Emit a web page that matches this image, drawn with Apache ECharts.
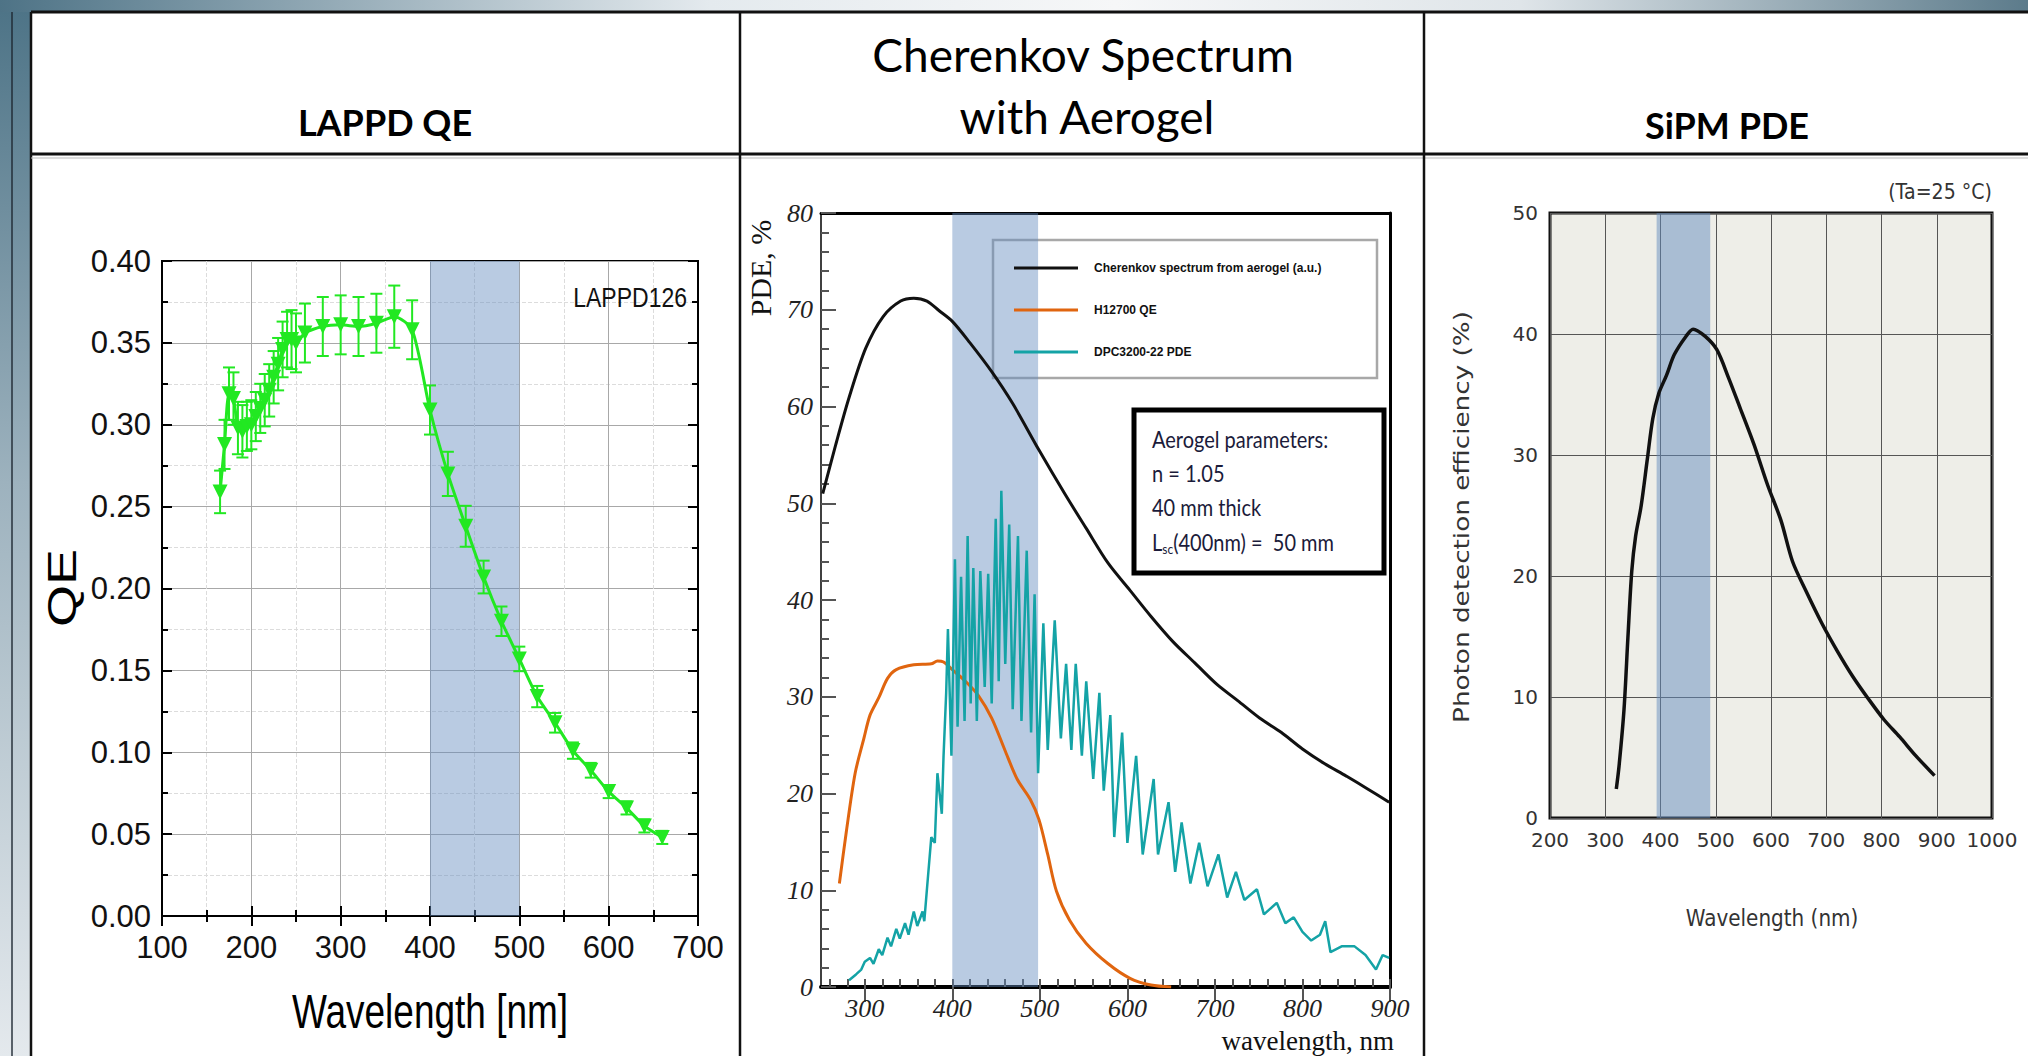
<!DOCTYPE html>
<html>
<head>
<meta charset="utf-8">
<title>LAPPD QE / Cherenkov spectrum / SiPM PDE</title>
<script src="https://cdn.jsdelivr.net/npm/echarts@6/dist/echarts.min.js"></script>
<style>
html, body { margin: 0; padding: 0; background: #fff; }
#main { width: 2028px; height: 1056px; }
</style>
</head>
<body>
<div id="main"></div>
<script>
// LAPPD126 quantum efficiency (left panel)
var qeWl = [165, 170, 175, 180, 185, 190, 195, 200, 205, 210, 215, 220, 225, 230, 235, 240, 245, 250, 260, 280,
    300, 320, 340, 360, 380, 400, 420, 440, 460, 480, 500, 520, 540, 560, 580, 600, 620, 640, 660];
var qeVal = [0.259, 0.288, 0.319, 0.316, 0.298, 0.296, 0.299, 0.300, 0.305, 0.310, 0.315, 0.321, 0.329, 0.337, 0.346, 0.352, 0.352, 0.350, 0.356, 0.360,
    0.361, 0.360, 0.362, 0.366, 0.358, 0.309, 0.270, 0.238, 0.207, 0.180, 0.157, 0.134, 0.118, 0.101, 0.089, 0.076, 0.066, 0.055, 0.048];
var qeErr = [0.013, 0.015, 0.016, 0.016, 0.016, 0.016, 0.015, 0.015, 0.015, 0.015, 0.016, 0.016, 0.016, 0.016, 0.017, 0.017, 0.018, 0.018, 0.018, 0.018,
    0.018, 0.018, 0.018, 0.019, 0.018, 0.015, 0.0135, 0.0125, 0.010, 0.009, 0.0075, 0.0065, 0.006, 0.005, 0.0045, 0.004, 0.004, 0.004, 0.004];

// Cherenkov spectrum from aerogel (middle panel)
var cherWl = [252, 267, 282, 301, 321, 341, 356, 371, 385, 400, 420, 445, 469, 499, 529, 553, 578, 603, 627, 652,
    677, 702, 726, 751, 776, 800, 825, 850, 874, 899];
var cherVal = [51.0, 56.1, 60.9, 66.0, 69.3, 70.9, 71.2, 70.9, 69.9, 68.8, 66.6, 63.6, 60.3, 55.5, 50.9, 47.4, 43.8, 41.0, 38.3, 35.7,
    33.5, 31.3, 29.6, 27.8, 26.3, 24.6, 23.1, 21.8, 20.5, 19.1];

// H12700 QE
var h12700Wl = [271, 279, 289, 299, 306, 316, 326, 336, 356, 376, 383, 390, 400, 415, 430, 445, 460, 474, 489, 499,
    509, 519, 534, 553, 578, 603, 627, 650];
var h12700Val = [10.7, 16.1, 22.1, 25.7, 28.1, 29.9, 31.9, 32.8, 33.3, 33.4, 33.7, 33.6, 32.8, 31.6, 30.1, 27.8, 24.5, 21.5, 19.4, 17.3,
    13.7, 9.9, 6.9, 4.5, 2.4, 0.9, 0.2, 0.0];

// DPC3200-22 PDE
var dpcWl = [282, 290, 296, 300, 306, 310, 316, 320, 326, 330, 336, 340, 346, 350, 356, 360, 366, 368, 371, 376,
    380, 383, 388, 390, 393, 395, 399, 403, 406, 410, 414, 417.5, 421, 424, 428, 432, 437, 441, 445, 449.6,
    453, 456, 460.5, 465, 469, 475, 479, 485, 490, 494, 498, 504, 509, 517, 524, 530, 536, 541, 548, 553,
    561, 568, 573, 580.5, 585, 594, 600, 610, 617.5, 630, 635, 647, 654.6, 662, 672, 682, 691.6, 704, 714, 724,
    733.6, 748, 756, 770.6, 780.5, 790, 800, 810, 820, 826, 832, 844.7, 859.5, 872, 884, 891.6, 899];
var dpcVal = [0.7, 1.3, 1.8, 2.6, 3.0, 2.4, 3.9, 3.3, 5.1, 4.2, 6.0, 5.0, 6.6, 5.4, 7.8, 6.3, 7.8, 6.8, 10.1, 15.5,
    14.9, 22.1, 17.9, 23.9, 30.4, 37.0, 23.9, 44.2, 26.9, 42.4, 27.5, 46.6, 29.3, 43.3, 27.5, 43.0, 31.0, 42.7, 29.3, 48.4,
    31.6, 51.3, 33.4, 47.8, 28.7, 46.6, 27.5, 45.1, 26.3, 40.6, 22.1, 37.6, 24.5, 37.9, 25.7, 33.4, 24.5, 33.4, 23.9, 31.6,
    21.5, 30.4, 20.3, 28.1, 15.5, 26.3, 14.9, 23.9, 13.7, 21.5, 13.7, 19.1, 11.9, 17.0, 10.7, 14.9, 10.4, 13.7, 9.25, 11.9,
    9.0, 10.1, 7.5, 8.7, 6.6, 7.2, 5.7, 4.8, 5.4, 6.8, 3.6, 4.2, 4.2, 3.3, 1.8, 3.3, 3.0];

// SiPM photon detection efficiency (right panel)
var sipmWl = [320, 325, 334, 341, 348, 355, 365, 376, 386, 397, 411, 425, 446, 459, 481, 502, 523, 544, 569, 594,
    618, 639, 664, 692, 720, 748, 777, 805, 833, 861, 896];
var sipmVal = [2.4, 4.3, 9.0, 14.9, 20.4, 23.3, 25.8, 29.6, 33.0, 35.1, 36.6, 38.3, 39.8, 40.4, 39.8, 38.7, 36.4, 33.9, 30.9, 27.5,
    24.6, 21.2, 18.7, 16.1, 13.8, 11.7, 9.8, 8.1, 6.7, 5.2, 3.5];

// tick positions of the middle panel (axis starts at 250)
var cherMajorTicks = [300, 400, 500, 600, 700, 800, 900];
var cherMinorTicks = [260, 280, 300, 320, 340, 360, 380, 400, 420, 440, 460, 480, 500, 520, 540, 560, 580, 600,
    620, 640, 660, 680, 700, 720, 740, 760, 780, 800, 820, 840, 860, 880, 900];

var legendNames = ['Cherenkov spectrum from aerogel (a.u.)', 'H12700 QE', 'DPC3200-22 PDE'];

function pairs(xs, ys) {
    var out = [];
    for (var i = 0; i < xs.length; i++) {
        out.push([xs[i], ys[i]]);
    }
    return out;
}

function bandSeries(xi, yi, from, to, color) {
    return {
        type: 'line', xAxisIndex: xi, yAxisIndex: yi, data: [], z: 10, silent: true,
        markArea: {
            silent: true,
            itemStyle: {color: color},
            data: [[{xAxis: from}, {xAxis: to}]]
        }
    };
}

var green = '#22e822';
var sans = '"Liberation Sans Narrow", "Liberation Sans", Arial, sans-serif';
var serif = '"Liberation Serif", serif';
var chart = echarts.init(document.getElementById('main'), null, {renderer: 'svg'});

var option = {
    animation: false,
    backgroundColor: '#fff',
    grid: [
        {left: 162, top: 261, width: 536, height: 655, show: true, borderColor: '#000', borderWidth: 2, backgroundColor: 'transparent'},
        {left: 821, top: 213, width: 569, height: 774},
        {left: 1550, top: 213, width: 442, height: 605, show: true, backgroundColor: '#eeeee8', borderColor: '#111', borderWidth: 3}
    ],
    xAxis: [
        // LAPPD
        {
            gridIndex: 0, type: 'value', min: 100, max: 700, interval: 100,
            axisLine: {lineStyle: {color: '#000', width: 2}},
            axisTick: {inside: true, length: 10, lineStyle: {color: '#000', width: 2}},
            minorTick: {show: true, splitNumber: 2, length: 6, lineStyle: {color: '#000', width: 2}},
            splitLine: {show: true, lineStyle: {color: '#a8a8a8', width: 1}},
            minorSplitLine: {show: true, lineStyle: {color: '#dcdcdc', type: 'dashed'}},
            axisLabel: {margin: 16, color: '#111', fontFamily: sans, fontSize: 31}
        },
        {
            gridIndex: 0, type: 'value', position: 'top', min: 100, max: 700, interval: 100,
            axisLine: {lineStyle: {color: '#000', width: 2}},
            axisTick: {inside: true, length: 10, lineStyle: {color: '#000', width: 2}},
            minorTick: {show: true, splitNumber: 2, length: 6, lineStyle: {color: '#000', width: 2}},
            splitLine: {show: false}, axisLabel: {show: false}
        },
        // Cherenkov
        {
            gridIndex: 1, type: 'value', min: 250, max: 900,
            axisLine: {lineStyle: {color: '#000', width: 4}},
            axisTick: {inside: true, length: 8, customValues: cherMinorTicks, lineStyle: {color: '#555', width: 2}},
            splitLine: {show: false},
            axisLabel: {margin: 8, customValues: cherMajorTicks, color: '#222', fontFamily: serif, fontStyle: 'italic', fontSize: 26}
        },
        {
            gridIndex: 1, type: 'value', min: 250, max: 900,
            axisLine: {show: false},
            axisTick: {inside: true, length: 15, customValues: cherMajorTicks, lineStyle: {color: '#555', width: 2}},
            splitLine: {show: false}, axisLabel: {show: false}
        },
        {
            gridIndex: 1, type: 'value', position: 'top', min: 250, max: 900,
            axisLine: {lineStyle: {color: '#000', width: 3}},
            axisTick: {show: false}, splitLine: {show: false}, axisLabel: {show: false}
        },
        // SiPM
        {
            gridIndex: 2, type: 'value', min: 200, max: 1000, interval: 100,
            axisLine: {show: false}, axisTick: {show: false},
            splitLine: {show: true, lineStyle: {color: '#555', width: 1}},
            axisLabel: {margin: 12, color: '#333', fontFamily: 'DejaVu Sans', fontSize: 20,
                formatter: function (v) { return String(v); }}
        }
    ],
    yAxis: [
        {
            gridIndex: 0, type: 'value', min: 0, max: 0.4, interval: 0.05,
            axisLine: {show: true, lineStyle: {color: '#000', width: 2}},
            axisTick: {show: true, inside: true, length: 10, lineStyle: {color: '#000', width: 2}},
            minorTick: {show: true, splitNumber: 2, length: 6, lineStyle: {color: '#000', width: 2}},
            splitLine: {show: true, lineStyle: {color: '#a8a8a8', width: 1}},
            minorSplitLine: {show: true, lineStyle: {color: '#dcdcdc', type: 'dashed'}},
            axisLabel: {margin: 11, color: '#111', fontFamily: sans, fontSize: 31,
                formatter: function (v) { return v.toFixed(2); }}
        },
        {
            gridIndex: 0, type: 'value', position: 'right', min: 0, max: 0.4, interval: 0.05,
            axisLine: {show: true, lineStyle: {color: '#000', width: 2}},
            axisTick: {show: true, inside: true, length: 10, lineStyle: {color: '#000', width: 2}},
            minorTick: {show: true, splitNumber: 2, length: 6, lineStyle: {color: '#000', width: 2}},
            splitLine: {show: false}, axisLabel: {show: false}
        },
        {
            gridIndex: 1, type: 'value', min: 0, max: 80, interval: 10,
            axisLine: {show: true, lineStyle: {color: '#000', width: 1.5}},
            axisTick: {show: true, inside: true, length: 15, lineStyle: {color: '#555', width: 2}},
            minorTick: {show: true, splitNumber: 5, length: 8, lineStyle: {color: '#555', width: 2}},
            splitLine: {show: false},
            axisLabel: {margin: 8, color: '#222', fontFamily: serif, fontStyle: 'italic', fontSize: 26}
        },
        {
            gridIndex: 1, type: 'value', position: 'right', min: 0, max: 80,
            axisLine: {show: true, lineStyle: {color: '#000', width: 3}},
            axisTick: {show: false}, splitLine: {show: false}, axisLabel: {show: false}
        },
        {
            gridIndex: 2, type: 'value', min: 0, max: 50, interval: 10,
            axisLine: {show: false}, axisTick: {show: false},
            splitLine: {show: true, lineStyle: {color: '#555', width: 1}},
            axisLabel: {margin: 12, color: '#333', fontFamily: 'DejaVu Sans', fontSize: 20}
        }
    ],
    legend: {
        data: legendNames,
        orient: 'vertical', left: 1009, top: 257,
        icon: 'rect', itemWidth: 64, itemHeight: 3, itemGap: 30,
        selectedMode: false, z: 3,
        textStyle: {fontFamily: 'Liberation Sans', fontWeight: 'bold', fontSize: 12, color: '#111', padding: [0, 0, 0, 11]}
    },
    series: [
        {
            name: 'LAPPD126', type: 'line', xAxisIndex: 0, yAxisIndex: 0, z: 4,
            data: pairs(qeWl, qeVal), smooth: 0.25,
            symbol: 'triangle', symbolRotate: 180, symbolSize: 15,
            itemStyle: {color: green}, lineStyle: {color: green, width: 3}
        },
        {
            type: 'custom', xAxisIndex: 0, yAxisIndex: 0, z: 3,
            data: qeWl.map(function (w, i) { return [w, qeVal[i], qeErr[i]]; }),
            encode: {x: 0, y: 1},
            renderItem: function (params, api) {
                var x = api.value(0), y = api.value(1), e = api.value(2);
                var hi = api.coord([x, y + e]);
                var lo = api.coord([x, y - e]);
                var cap = 6;
                var st = {stroke: green, lineWidth: 2};
                return {
                    type: 'group',
                    children: [
                        {type: 'line', shape: {x1: hi[0], y1: hi[1], x2: lo[0], y2: lo[1]}, style: st},
                        {type: 'line', shape: {x1: hi[0] - cap, y1: hi[1], x2: hi[0] + cap, y2: hi[1]}, style: st},
                        {type: 'line', shape: {x1: lo[0] - cap, y1: lo[1], x2: lo[0] + cap, y2: lo[1]}, style: st}
                    ]
                };
            }
        },
        bandSeries(0, 0, 400, 500, 'rgba(100,140,190,0.45)'),
        {
            name: legendNames[0], type: 'line', xAxisIndex: 2, yAxisIndex: 2, z: 4,
            data: pairs(cherWl, cherVal), smooth: 0.3, showSymbol: false,
            itemStyle: {color: '#111'}, lineStyle: {color: '#111', width: 3}
        },
        {
            name: legendNames[1], type: 'line', xAxisIndex: 2, yAxisIndex: 2, z: 4,
            data: pairs(h12700Wl, h12700Val), smooth: 0.3, showSymbol: false,
            itemStyle: {color: '#e0650f'}, lineStyle: {color: '#e0650f', width: 3}
        },
        {
            name: legendNames[2], type: 'line', xAxisIndex: 2, yAxisIndex: 2, z: 4,
            data: pairs(dpcWl, dpcVal), showSymbol: false,
            itemStyle: {color: '#14a3a6'}, lineStyle: {color: '#14a3a6', width: 2.5}
        },
        bandSeries(2, 2, 400, 498, 'rgba(100,140,190,0.45)'),
        {
            name: 'SiPM', type: 'line', xAxisIndex: 5, yAxisIndex: 4, z: 4,
            data: pairs(sipmWl, sipmVal), smooth: 0.3, showSymbol: false,
            lineStyle: {color: '#111', width: 3.5}
        },
        bandSeries(5, 4, 393, 490, 'rgba(100,140,190,0.5)')
    ],
    graphic: [
        // slide frame
        {type: 'rect', z: -5, shape: {x: 0, y: 0, width: 2028, height: 12},
            style: {fill: new echarts.graphic.LinearGradient(0, 0, 1, 0, [
                {offset: 0, color: '#4e7386'}, {offset: 0.35, color: '#e4eaee'},
                {offset: 0.55, color: '#f6f7f8'}, {offset: 0.75, color: '#dfe5e9'}, {offset: 1, color: '#5c7b8b'}])}},
        {type: 'rect', z: -5, shape: {x: 0, y: 12, width: 31, height: 1044},
            style: {fill: new echarts.graphic.LinearGradient(0, 0, 0, 1, [
                {offset: 0, color: '#4e7487'}, {offset: 0.45, color: '#9db2be'}, {offset: 1, color: '#e4e9ed'}])}},
        {type: 'line', z: -4, shape: {x1: 12, y1: 12, x2: 12, y2: 1056}, style: {stroke: 'rgba(30,40,50,0.7)', lineWidth: 2}},
        {type: 'rect', z: -5, shape: {x: 31, y: 12, width: 1997, height: 1044}, style: {fill: '#fff'}},
        // table lines
        {type: 'line', shape: {x1: 31, y1: 12, x2: 2028, y2: 12}, style: {stroke: '#111', lineWidth: 3}},
        {type: 'line', shape: {x1: 31, y1: 12, x2: 31, y2: 1056}, style: {stroke: '#111', lineWidth: 2.5}},
        {type: 'line', shape: {x1: 31, y1: 154, x2: 2028, y2: 154}, style: {stroke: '#111', lineWidth: 3}},
        {type: 'line', shape: {x1: 31, y1: 158, x2: 2028, y2: 158}, style: {stroke: '#bbb', lineWidth: 1}},
        {type: 'line', shape: {x1: 740, y1: 12, x2: 740, y2: 1056}, style: {stroke: '#111', lineWidth: 2.5}},
        {type: 'line', shape: {x1: 1424, y1: 12, x2: 1424, y2: 1056}, style: {stroke: '#111', lineWidth: 2.5}},
        // panel titles
        {type: 'text', x: 385, y: 122, style: {text: 'LAPPD QE', font: 'bold 36px Lato', fill: '#000', textAlign: 'center', textVerticalAlign: 'middle'}},
        {type: 'text', x: 1083, y: 54, style: {text: 'Cherenkov Spectrum', font: '46px Lato', fill: '#000', textAlign: 'center', textVerticalAlign: 'middle'}},
        {type: 'text', x: 1087, y: 116, style: {text: 'with Aerogel', font: '46px Lato', fill: '#000', textAlign: 'center', textVerticalAlign: 'middle'}},
        {type: 'text', x: 1727, y: 125, style: {text: 'SiPM PDE', font: 'bold 36px Lato', fill: '#000', textAlign: 'center', textVerticalAlign: 'middle'}},
        // left panel texts
        {type: 'text', x: 62, y: 588, rotation: Math.PI / 2, scaleX: 1.35, style: {text: 'QE', font: '40px "Liberation Sans"', fill: '#000', textAlign: 'center', textVerticalAlign: 'middle'}},
        {type: 'text', x: 430, y: 1011, scaleY: 1.3, style: {text: 'Wavelength [nm]', font: '37px "Liberation Sans"', fill: '#000', textAlign: 'center', textVerticalAlign: 'middle'}},
        {type: 'text', x: 687, y: 297, z: 20, scaleY: 1.2, style: {text: 'LAPPD126', font: '23px "Liberation Sans"', fill: '#111', textAlign: 'right', textVerticalAlign: 'middle'}},
        // middle panel texts
        {type: 'text', x: 760, y: 268, rotation: Math.PI / 2, style: {text: 'PDE, %', font: '30px "Liberation Serif"', fill: '#111', textAlign: 'center', textVerticalAlign: 'middle'}},
        {type: 'text', x: 1394, y: 1041, style: {text: 'wavelength, nm', font: '27px "Liberation Serif"', fill: '#111', textAlign: 'right', textVerticalAlign: 'middle'}},
        {type: 'rect', z: 1, shape: {x: 993, y: 240, width: 384, height: 138}, style: {fill: null, stroke: '#a8a8a8', lineWidth: 2.5}},
        {type: 'rect', z: 20, shape: {x: 1134, y: 410, width: 250, height: 163}, style: {fill: '#fff', stroke: '#000', lineWidth: 5}},
        {type: 'text', z: 21, x: 1152, y: 440, scaleY: 1.12, style: {text: 'Aerogel parameters:', font: '20px Lato', fill: '#1b1b3a', textVerticalAlign: 'middle'}},
        {type: 'text', z: 21, x: 1152, y: 474, scaleY: 1.12, style: {text: 'n = 1.05', font: '20px Lato', fill: '#1b1b3a', textVerticalAlign: 'middle'}},
        {type: 'text', z: 21, x: 1152, y: 508, scaleY: 1.12, style: {text: '40 mm thick', font: '20px Lato', fill: '#1b1b3a', textVerticalAlign: 'middle'}},
        {type: 'text', z: 21, x: 1152, y: 543, scaleY: 1.12, style: {
            text: '{a|L}{s|sc}{a|(400nm) =  50 mm}', textVerticalAlign: 'middle', fill: '#1b1b3a',
            rich: {
                a: {fontFamily: 'Lato', fontSize: 20, fill: '#1b1b3a'},
                s: {fontFamily: 'Lato', fontSize: 12, fill: '#1b1b3a', padding: [10, 0, 0, 0]}
            }}},
        // right panel texts
        {type: 'text', x: 1462, y: 517, rotation: Math.PI / 2, scaleX: 1.25, style: {text: 'Photon detection efficiency (%)', font: '21px "DejaVu Sans"', fill: '#333', textAlign: 'center', textVerticalAlign: 'middle'}},
        {type: 'text', x: 1772, y: 918, scaleY: 1.15, style: {text: 'Wavelength (nm)', font: '20px "DejaVu Sans"', fill: '#333', textAlign: 'center', textVerticalAlign: 'middle'}},
        {type: 'text', x: 1992, y: 192, scaleY: 1.15, style: {text: '(Ta=25 °C)', font: '19px "DejaVu Sans"', fill: '#333', textAlign: 'right', textVerticalAlign: 'middle'}}
    ]
};

chart.setOption(option);
</script>
</body>
</html>
